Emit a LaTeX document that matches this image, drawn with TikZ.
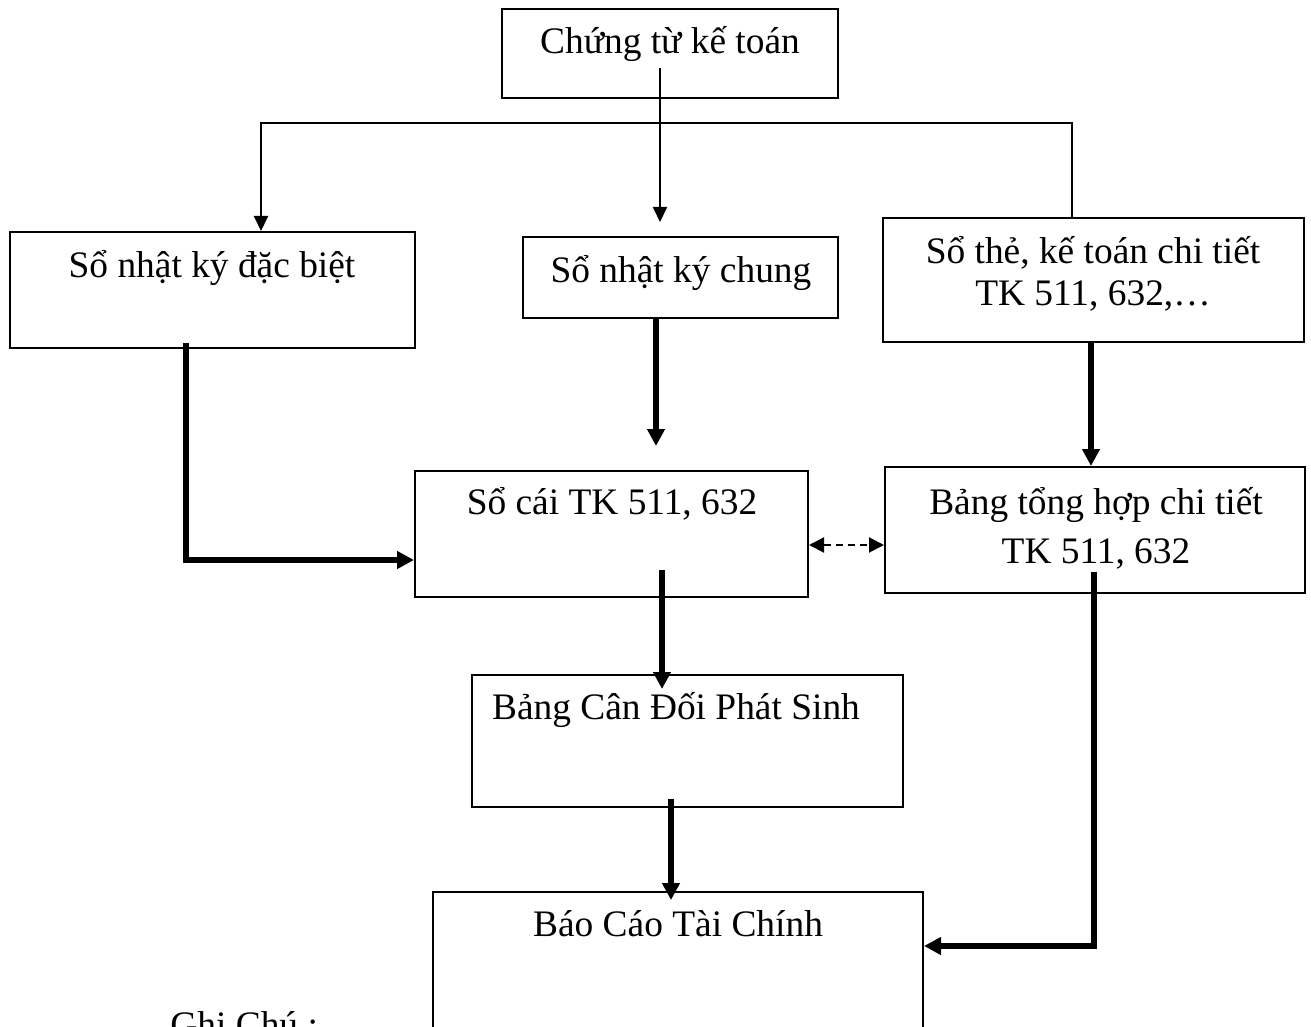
\documentclass[tikz,border=0pt]{standalone}
\usepackage{fontspec}
\setmainfont{Liberation Serif}
\usetikzlibrary{arrows.meta}
\begin{document}
\begin{tikzpicture}[x=0.5pt,y=-0.5pt,
  box/.style={draw, line width=1pt, inner sep=0pt},
  txt/.style={inner sep=0pt, anchor=base, align=center,
    font=\fontsize{18.7}{21.5}\selectfont},
  thinline/.style={line width=1pt, -{Triangle[length=7.5pt,width=7pt]}},
  heavy/.style={line width=3pt, -{Triangle[length=8.5pt,width=8.5pt]}},
  dashedlink/.style={line width=1pt, dash pattern=on 3.5pt off 2.5pt,
    {Triangle[length=7.5pt,width=7.5pt]}-{Triangle[length=7.5pt,width=7.5pt]}}]
\clip (0,0) rectangle (1311,1027);

% boxes
\node[box, minimum width=168pt,   minimum height=44.5pt] (b1) at (670,53.5) {};
\node[box, minimum width=202.5pt, minimum height=58pt]   (b2) at (212.5,290) {};
\node[box, minimum width=157.5pt, minimum height=40.5pt] (b3) at (680.5,277.5) {};
\node[box, minimum width=210.5pt, minimum height=62pt]   (b4) at (1093.5,280) {};
\node[box, minimum width=196.5pt, minimum height=63pt]   (b5) at (611.5,534) {};
\node[box, minimum width=210pt,   minimum height=63pt]   (b6) at (1095,530) {};
\node[box, minimum width=215.5pt, minimum height=66pt]   (b7) at (687.5,741) {};
\node[box, minimum width=245pt,   minimum height=84pt]   (b8) at (678,976) {};

% box texts (base of a two-line text is the baseline of its last line)
\node[txt] (t1) at (670,54)  {Chứng từ kế toán};
\node[txt] (t2) at (212,278) {Sổ nhật ký đặc biệt};
\node[txt] (t3) at (681,282) {Sổ nhật ký chung};
\node[txt] (t4) at (1093,306) {Sổ thẻ, kế toán chi tiết\\[-0.5pt]TK 511, 632,…};
\node[txt] (t5) at (612,514) {Sổ cái TK 511, 632};
\node[txt] (t6) at (1096,563) {Bảng tổng hợp chi tiết\\[3pt]TK 511, 632};
\node[txt] (t7) at (676,719) {Bảng Cân Đối Phát Sinh};
\node[txt] (t8) at (678,936) {Báo Cáo Tài Chính};
\node[txt, anchor=base west] (t9) at (170,1037) {Ghi Chú :};

% connector end points
\coordinate (busL) at (261,123);
\coordinate (busR) at (1072,123);
\coordinate (m0) at (660,68);
\coordinate (c2) at (186,343);
\coordinate (yL) at (0,560);
\coordinate (x3) at (656,0);
\coordinate (x4) at (1091,0);
\coordinate (yD) at (0,545);
\coordinate (c5) at (662,570);
\coordinate (c6) at (671,799);
\coordinate (c7) at (1094,572);
\coordinate (yR) at (0,946);

% thin distribution lines
\draw[thinline] (b4.north -| busR) -- (busR) -- (busL) -- (b2.north -| busL);
\draw[thinline] (m0) -- ([yshift=7pt]b3.north -| m0);

% heavy posting arrows
\draw[heavy] (c2) |- (b5.west |- yL);
\draw[heavy] (b3.south -| x3) -- ([yshift=12pt]b5.north -| x3);
\draw[heavy] (b4.south -| x4) -- (b6.north -| x4);
\draw[heavy] (c5) -- ([yshift=-7.5pt]b7.north -| c5);
\draw[heavy] (c6) -- ([yshift=-4.5pt]b8.north -| c6);
\draw[heavy] (c7) |- (b8.east |- yR);

% reconciliation link
\draw[dashedlink] (b5.east |- yD) -- (b6.west |- yD);
\end{tikzpicture}
\end{document}
